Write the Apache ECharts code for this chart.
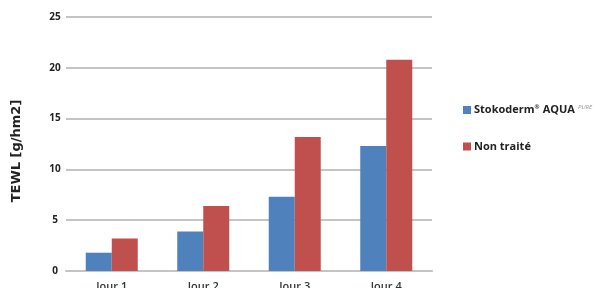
<!DOCTYPE html>
<html>
<head>
<meta charset="utf-8">
<script src="https://cdn.jsdelivr.net/npm/echarts@6/dist/echarts.min.js"></script>
<style>
  html, body { margin: 0; padding: 0; background: #fff; }
  #chart { width: 596px; height: 288px; }
</style>
</head>
<body>
<div id="chart"></div>
<script>
const days = ['Jour 1', 'Jour 2', 'Jour 3', 'Jour 4']
const stokoderm = [1.8, 3.9, 7.3, 12.3]
const nonTraite = [3.2, 6.4, 13.2, 20.8]
const yTicks = [0, 5, 10, 15, 20, 25]

const chart = echarts.init(document.getElementById('chart'), null, { renderer: 'canvas' })

chart.setOption({
    animation: false,
    textStyle: { fontFamily: 'Open Sans' },
    grid: { left: 66, right: 164, top: 17, bottom: 17, outerBoundsMode: 'none' },
    legend: {
        orient: 'vertical',
        left: 458,
        top: 99,
        itemWidth: 8,
        itemHeight: 8,
        itemGap: 25,
        icon: 'rect',
        data: ['Stokoderm', 'Non traité'],
        formatter: name => name === 'Stokoderm'
            ? '{a|Stokoderm}{r|®} {a|AQUA} {p|PURE}'
            : '{a|Non traité}',
        textStyle: {
            padding: [0, 0, 0, -2],
            rich: {
                a: { fontSize: 11, fontWeight: 'bold', color: '#222', fontFamily: 'Open Sans' },
                r: { fontSize: 6, fontWeight: 'bold', color: '#222', padding: [0, 0, 5, 0] },
                p: { fontSize: 6, fontStyle: 'italic', color: '#999', padding: [0, 0, 6, 0] }
            }
        }
    },
    xAxis: {
        type: 'category',
        data: days,
        axisTick: { show: false },
        axisLine: { lineStyle: { color: '#c4c4c4', width: 2 } },
        axisLabel: { color: '#333', fontSize: 11, margin: 10, fontWeight: 600 }
    },
    yAxis: {
        type: 'value',
        min: yTicks[0],
        max: yTicks[yTicks.length - 1],
        interval: 5,
        name: 'TEWL [g/hm2]',
        nameLocation: 'middle',
        nameGap: 43,
        nameTextStyle: { fontSize: 13, fontWeight: 'bold', color: '#222', fontFamily: 'DejaVu Sans', padding: [0, 0, 0, -14] },
        axisLine: { show: false },
        axisTick: { show: false },
        axisLabel: { color: '#222', fontSize: 10, fontWeight: 'bold', align: 'center', margin: 11 },
        splitLine: { lineStyle: { color: '#c4c4c4', width: 2 } }
    },
    series: [
        {
            name: 'Stokoderm',
            type: 'bar',
            data: stokoderm,
            barWidth: 26,
            barGap: '0%',
            itemStyle: { color: '#4f81bd' }
        },
        {
            name: 'Non traité',
            type: 'bar',
            data: nonTraite,
            barWidth: 26,
            barGap: '0%',
            itemStyle: { color: '#c0504d' }
        }
    ]
})
</script>
</body>
</html>
